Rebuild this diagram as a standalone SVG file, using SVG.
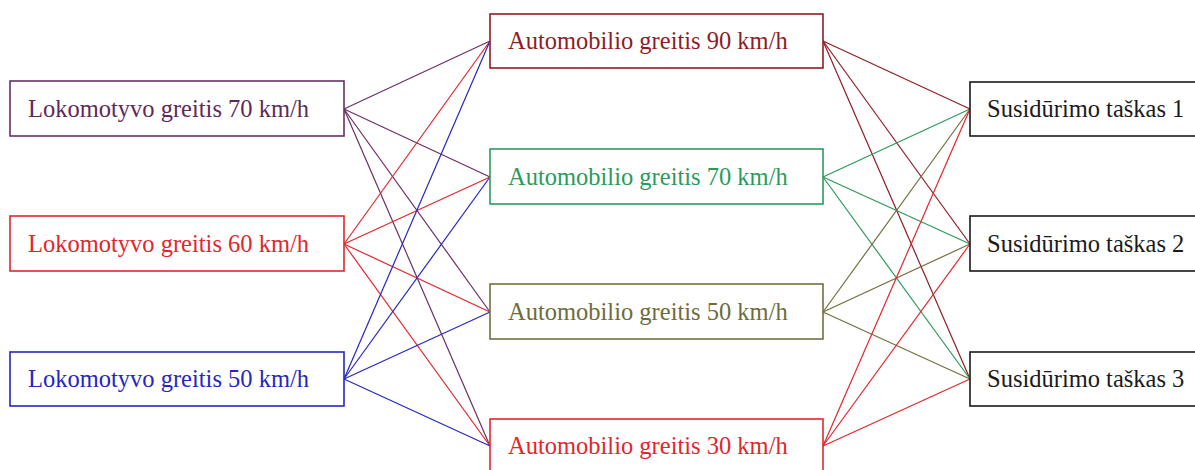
<svg xmlns="http://www.w3.org/2000/svg" width="1195" height="470" viewBox="0 0 1195 470">
<style>
rect{fill:#fff;stroke-width:1.6}
text{font-family:"Liberation Serif","Times New Roman",serif;font-size:24.5px}
line{stroke-width:1.2}
.p{stroke:#6a2f66}.pt{fill:#5e2a5c}
.r{stroke:#e3262c}.rt{fill:#e3262c}
.b{stroke:#2626c4}.bt{fill:#2626c4}
.d{stroke:#8e1d25}.dt{fill:#8e1d25}
.g{stroke:#2c9a5c}.gt{fill:#2c9a5c}
.o{stroke:#72703e}.ot{fill:#6e6c3a}
.k{stroke:#1a1a1a}.kt{fill:#1a1a1a}
</style>
<rect width="1195" height="470" fill="#fff" stroke="none"/>
<g id="connectors">
<line class="p" x1="344" y1="109" x2="490" y2="41"/>
<line class="p" x1="344" y1="109" x2="490" y2="177"/>
<line class="p" x1="344" y1="109" x2="490" y2="312"/>
<line class="p" x1="344" y1="109" x2="490" y2="446"/>
<line class="r" x1="344" y1="244" x2="490" y2="41"/>
<line class="r" x1="344" y1="244" x2="490" y2="177"/>
<line class="r" x1="344" y1="244" x2="490" y2="312"/>
<line class="r" x1="344" y1="244" x2="490" y2="446"/>
<line class="b" x1="344" y1="379" x2="490" y2="41"/>
<line class="b" x1="344" y1="379" x2="490" y2="177"/>
<line class="b" x1="344" y1="379" x2="490" y2="312"/>
<line class="b" x1="344" y1="379" x2="490" y2="446"/>
<line class="d" x1="823" y1="41" x2="970" y2="109"/>
<line class="d" x1="823" y1="41" x2="970" y2="244"/>
<line class="d" x1="823" y1="41" x2="970" y2="379"/>
<line class="g" x1="823" y1="177" x2="970" y2="109"/>
<line class="g" x1="823" y1="177" x2="970" y2="244"/>
<line class="g" x1="823" y1="177" x2="970" y2="379"/>
<line class="o" x1="823" y1="312" x2="970" y2="109"/>
<line class="o" x1="823" y1="312" x2="970" y2="244"/>
<line class="o" x1="823" y1="312" x2="970" y2="379"/>
<line class="r" x1="823" y1="446" x2="970" y2="109"/>
<line class="r" x1="823" y1="446" x2="970" y2="244"/>
<line class="r" x1="823" y1="446" x2="970" y2="379"/>
</g>
<g id="lok70"><rect class="p" x="10" y="81" width="334" height="55"/><text class="pt" x="28" y="117">Lokomotyvo greitis 70 km/h</text></g>
<g id="lok60"><rect class="r" x="10" y="216" width="334" height="55"/><text class="rt" x="28" y="252">Lokomotyvo greitis 60 km/h</text></g>
<g id="lok50"><rect class="b" x="10" y="352" width="334" height="54"/><text class="bt" x="28" y="387">Lokomotyvo greitis 50 km/h</text></g>
<g id="auto90"><rect class="d" x="490" y="14" width="333" height="54"/><text class="dt" x="508" y="49">Automobilio greitis 90 km/h</text></g>
<g id="auto70"><rect class="g" x="490" y="149" width="333" height="55"/><text class="gt" x="508" y="185">Automobilio greitis 70 km/h</text></g>
<g id="auto50"><rect class="o" x="490" y="284" width="333" height="55"/><text class="ot" x="508" y="320">Automobilio greitis 50 km/h</text></g>
<g id="auto30"><rect class="r" x="490" y="419" width="333" height="55"/><text class="rt" x="508" y="454">Automobilio greitis 30 km/h</text></g>
<g id="tsk1"><rect class="k" x="970" y="82" width="240" height="54"/><text class="kt" x="987" y="117">Susidūrimo taškas 1</text></g>
<g id="tsk2"><rect class="k" x="970" y="216" width="240" height="55"/><text class="kt" x="987" y="252">Susidūrimo taškas 2</text></g>
<g id="tsk3"><rect class="k" x="970" y="352" width="240" height="54"/><text class="kt" x="987" y="387">Susidūrimo taškas 3</text></g>
</svg>
